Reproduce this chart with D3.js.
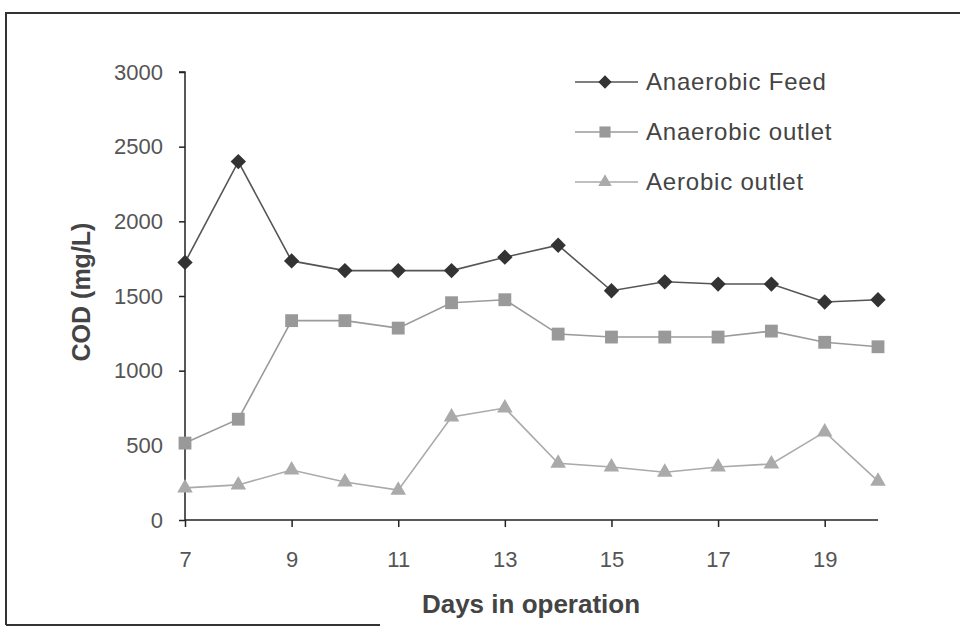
<!DOCTYPE html>
<html><head><meta charset="utf-8">
<script src="https://cdn.jsdelivr.net/npm/d3@7"></script>
<style>body{margin:0;background:#fff}svg{display:block}</style>
</head><body><svg id="c" width="960" height="627"></svg>
<script>
const days = [7,8,9,10,11,12,13,14,15,16,17,18,19,20];
const anaerobicFeed   = [1725,2400,1735,1670,1670,1670,1760,1840,1535,1595,1580,1580,1460,1475];
const anaerobicOutlet = [515,675,1335,1335,1285,1455,1475,1245,1225,1225,1225,1265,1190,1160];
const aerobicOutlet   = [215,235,335,255,200,690,750,380,355,320,355,375,590,260];
const seriesNames = ["Anaerobic Feed","Anaerobic outlet","Aerobic outlet"];
const xTicks = [7,9,11,13,15,17,19];
const yTicks = [0,500,1000,1500,2000,2500,3000];

const svg = d3.select("#c");
const x = d3.scaleLinear().domain([7,20]).range([185,878]);
const y = d3.scaleLinear().domain([0,3000]).range([520,72]);

// frame
svg.append("path").attr("d","M6,625 V13 H960").attr("fill","none").attr("stroke","#333").attr("stroke-width",2);
svg.append("line").attr("x1",6).attr("x2",380).attr("y1",625).attr("y2",625).attr("stroke","#333").attr("stroke-width",2);

const font = "Liberation Sans, Arial, sans-serif";
const yAxis = svg.append("g").attr("transform","translate(185,0)")
  .call(d3.axisLeft(y).tickValues(yTicks).tickSize(6).tickPadding(16).tickFormat(d3.format("d")));
const xAxis = svg.append("g").attr("transform","translate(0,520)")
  .call(d3.axisBottom(x).tickValues(xTicks).tickSize(7).tickPadding(24).tickFormat(d3.format("d")));
[yAxis,xAxis].forEach(a=>{
  a.select(".domain").attr("stroke","#222").attr("stroke-width",1.5);
  a.selectAll(".tick line").attr("stroke","#222").attr("stroke-width",1.5);
  a.selectAll("text").attr("font-family",font).attr("font-size",22).attr("fill","#555");
});
yAxis.select(".domain").attr("d","M-0,520V72H-6");
xAxis.select(".domain").attr("d","M185,0H878");

svg.append("text").attr("transform","translate(90,292) rotate(-90)").attr("text-anchor","middle")
  .attr("font-family",font).attr("font-weight","bold").attr("font-size",25).attr("fill","#444").text("COD (mg/L)");
svg.append("text").attr("x",531).attr("y",613).attr("text-anchor","middle")
  .attr("font-family",font).attr("font-weight","bold").attr("font-size",26).attr("fill","#444").text("Days in operation");

const styles = [
  {data:anaerobicFeed, line:"#555", fill:"#333", sym:d3.symbolDiamond2, size:150},
  {data:anaerobicOutlet, line:"#9a9a9a", fill:"#999", sym:d3.symbolSquare, size:165},
  {data:aerobicOutlet, line:"#aaa", fill:"#aaa", sym:d3.symbolTriangle, size:105}
];
const lineGen = d3.line().x((d,i)=>x(days[i])).y(d=>y(d));
styles.forEach(s=>{
  svg.append("path").datum(s.data).attr("d",lineGen).attr("fill","none").attr("stroke",s.line).attr("stroke-width",1.6);
  svg.append("g").selectAll("path").data(s.data).join("path")
    .attr("transform",(d,i)=>`translate(${x(days[i])},${y(d)})`)
    .attr("d",d3.symbol().type(s.sym).size(s.size)).attr("fill",s.fill);
});

// legend
const leg = svg.append("g");
styles.forEach((s,i)=>{
  const ly = 82 + i*50;
  leg.append("line").attr("x1",575).attr("x2",638).attr("y1",ly).attr("y2",ly).attr("stroke",s.line).attr("stroke-width",1.6);
  leg.append("path").attr("transform",`translate(605,${ly})`).attr("d",d3.symbol().type(s.sym).size(s.size*0.75)).attr("fill",s.fill);
  leg.append("text").attr("x",646).attr("y",ly+8).attr("font-family",font).attr("font-size",24)
    .attr("letter-spacing",0.8).attr("fill","#444").text(seriesNames[i]);
});
</script></body></html>
